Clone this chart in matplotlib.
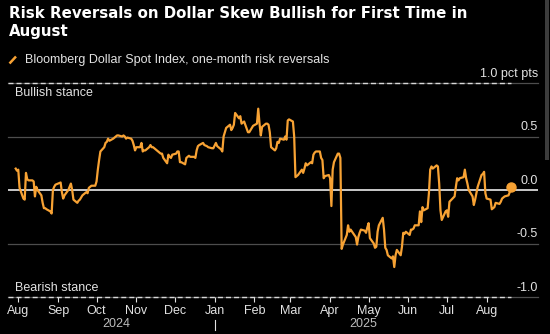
import matplotlib.pyplot as plt
import matplotlib.lines as mlines
import matplotlib.patches as mpatches
import pandas as pd

# Bloomberg Dollar Spot Index, one-month risk reversals (pct pts)
dates = [
    "2024-07-30", "2024-07-31", "2024-08-01", "2024-08-02", "2024-08-05", "2024-08-06",
    "2024-08-07", "2024-08-08", "2024-08-09", "2024-08-12", "2024-08-13", "2024-08-14",
    "2024-08-15", "2024-08-16", "2024-08-19", "2024-08-20", "2024-08-21", "2024-08-22",
    "2024-08-23", "2024-08-26", "2024-08-27", "2024-08-28", "2024-08-29", "2024-08-30",
    "2024-09-03", "2024-09-04", "2024-09-05", "2024-09-06", "2024-09-09", "2024-09-10",
    "2024-09-11", "2024-09-12", "2024-09-13", "2024-09-16", "2024-09-17", "2024-09-18",
    "2024-09-19", "2024-09-20", "2024-09-23", "2024-09-24", "2024-09-25", "2024-09-26",
    "2024-09-27", "2024-09-30", "2024-10-01", "2024-10-02", "2024-10-03", "2024-10-04",
    "2024-10-07", "2024-10-08", "2024-10-09", "2024-10-10", "2024-10-11", "2024-10-14",
    "2024-10-15", "2024-10-16", "2024-10-17", "2024-10-18", "2024-10-21", "2024-10-22",
    "2024-10-23", "2024-10-24", "2024-10-25", "2024-10-28", "2024-10-29", "2024-10-30",
    "2024-10-31", "2024-11-01", "2024-11-04", "2024-11-05", "2024-11-06", "2024-11-07",
    "2024-11-08", "2024-11-11", "2024-11-12", "2024-11-13", "2024-11-14", "2024-11-15",
    "2024-11-18", "2024-11-19", "2024-11-20", "2024-11-21", "2024-11-22", "2024-11-25",
    "2024-11-26", "2024-11-27", "2024-11-28", "2024-11-29", "2024-12-02", "2024-12-03",
    "2024-12-04", "2024-12-05", "2024-12-06", "2024-12-09", "2024-12-10", "2024-12-11",
    "2024-12-12", "2024-12-13", "2024-12-16", "2024-12-17", "2024-12-18", "2024-12-19",
    "2024-12-20", "2024-12-23", "2024-12-24", "2024-12-26", "2024-12-27", "2024-12-30",
    "2024-12-31", "2025-01-02", "2025-01-03", "2025-01-06", "2025-01-07", "2025-01-08",
    "2025-01-09", "2025-01-10", "2025-01-13", "2025-01-14", "2025-01-15", "2025-01-16",
    "2025-01-17", "2025-01-20", "2025-01-21", "2025-01-22", "2025-01-23", "2025-01-24",
    "2025-01-27", "2025-01-28", "2025-01-29", "2025-01-30", "2025-01-31", "2025-02-03",
    "2025-02-04", "2025-02-05", "2025-02-06", "2025-02-07", "2025-02-10", "2025-02-11",
    "2025-02-12", "2025-02-13", "2025-02-14", "2025-02-17", "2025-02-18", "2025-02-19",
    "2025-02-20", "2025-02-21", "2025-02-24", "2025-02-25", "2025-02-26", "2025-02-27",
    "2025-02-28", "2025-03-03", "2025-03-04", "2025-03-05", "2025-03-06", "2025-03-07",
    "2025-03-10", "2025-03-11", "2025-03-12", "2025-03-13", "2025-03-14", "2025-03-17",
    "2025-03-18", "2025-03-19", "2025-03-20", "2025-03-21", "2025-03-24", "2025-03-25",
    "2025-03-26", "2025-03-27", "2025-03-28", "2025-03-31", "2025-04-01", "2025-04-02",
    "2025-04-03", "2025-04-04", "2025-04-07", "2025-04-08", "2025-04-09", "2025-04-10",
    "2025-04-11", "2025-04-14", "2025-04-15", "2025-04-16", "2025-04-17", "2025-04-21",
    "2025-04-22", "2025-04-23", "2025-04-24", "2025-04-25", "2025-04-28", "2025-04-29",
    "2025-04-30", "2025-05-01", "2025-05-02", "2025-05-05", "2025-05-06", "2025-05-07",
    "2025-05-08", "2025-05-09", "2025-05-12", "2025-05-13", "2025-05-14", "2025-05-15",
    "2025-05-16", "2025-05-19", "2025-05-20", "2025-05-21", "2025-05-22", "2025-05-23",
    "2025-05-26", "2025-05-27", "2025-05-28", "2025-05-29", "2025-05-30", "2025-06-02",
    "2025-06-03", "2025-06-04", "2025-06-05", "2025-06-06", "2025-06-09", "2025-06-10",
    "2025-06-11", "2025-06-12", "2025-06-13", "2025-06-16", "2025-06-17", "2025-06-18",
    "2025-06-19", "2025-06-20", "2025-06-23", "2025-06-24", "2025-06-25", "2025-06-26",
    "2025-06-27", "2025-06-30", "2025-07-01", "2025-07-02", "2025-07-03", "2025-07-07",
    "2025-07-08", "2025-07-09", "2025-07-10", "2025-07-11", "2025-07-14", "2025-07-15",
    "2025-07-16", "2025-07-17", "2025-07-18", "2025-07-21", "2025-07-22", "2025-07-23",
    "2025-07-24", "2025-07-25", "2025-07-28", "2025-07-29", "2025-07-30", "2025-07-31",
    "2025-08-01", "2025-08-04", "2025-08-05", "2025-08-06", "2025-08-07", "2025-08-08",
    "2025-08-11", "2025-08-12", "2025-08-13", "2025-08-14", "2025-08-15", "2025-08-18",
    "2025-08-19", "2025-08-20",
]
risk_reversals = [
    0.20, 0.18, 0.19, 0.02, -0.08, -0.09,
    0.16, 0.10, 0.09, 0.09, 0.08, -0.06,
    0.03, 0.00, -0.05, -0.12, -0.17, -0.17,
    -0.18, -0.20, -0.22, 0.00, 0.03, 0.05,
    0.07, -0.02, -0.08, -0.05, 0.00, 0.03,
    0.06, 0.00, -0.09, -0.12, -0.10, -0.09,
    -0.07, -0.05, -0.02, -0.03, 0.02, 0.03,
    0.04, 0.04, 0.08, 0.19, 0.28, 0.36,
    0.40, 0.44, 0.45, 0.48, 0.46, 0.48,
    0.49, 0.50, 0.51, 0.51, 0.50, 0.51,
    0.50, 0.48, 0.49, 0.48, 0.46, 0.42,
    0.37, 0.40, 0.40, 0.44, 0.36, 0.37,
    0.37, 0.40, 0.42, 0.40, 0.40, 0.39,
    0.36, 0.35, 0.34, 0.34, 0.30, 0.25,
    0.33, 0.31, 0.30, 0.33, 0.34, 0.36,
    0.36, 0.26, 0.26, 0.24, 0.30, 0.31,
    0.32, 0.31, 0.31, 0.30, 0.37, 0.41,
    0.42, 0.44, 0.42, 0.41, 0.40, 0.39,
    0.39, 0.44, 0.41, 0.38, 0.36, 0.50,
    0.54, 0.58, 0.61, 0.56, 0.58, 0.61,
    0.72, 0.67, 0.69, 0.62, 0.63, 0.64,
    0.54, 0.54, 0.56, 0.58, 0.60, 0.62,
    0.76, 0.62, 0.51, 0.59, 0.62, 0.62,
    0.61, 0.54, 0.40, 0.37, 0.39, 0.45,
    0.44, 0.48, 0.47, 0.50, 0.47, 0.65,
    0.66, 0.64, 0.50, 0.12, 0.13, 0.14,
    0.19, 0.16, 0.20, 0.25, 0.23, 0.26,
    0.25, 0.33, 0.35, 0.36, 0.36, 0.30,
    0.28, 0.11, 0.13, 0.14, 0.11, -0.15,
    0.19, 0.26, 0.34, 0.34, 0.30, -0.55,
    -0.51, -0.42, -0.33, -0.39, -0.37, -0.44,
    -0.51, -0.44, -0.40, -0.37, -0.38, -0.40,
    -0.35, -0.31, -0.45, -0.50, -0.54, -0.53,
    -0.39, -0.33, -0.26, -0.37, -0.54, -0.56,
    -0.61, -0.64, -0.62, -0.72, -0.61, -0.56,
    -0.61, -0.53, -0.40, -0.41, -0.39, -0.42,
    -0.37, -0.37, -0.36, -0.33, -0.33, -0.20,
    -0.30, -0.16, -0.19, -0.17, -0.03, 0.19,
    0.22, 0.20, 0.23, 0.22, 0.06, -0.19,
    -0.28, -0.20, -0.19, -0.25, -0.11, -0.06,
    0.03, 0.11, 0.09, 0.11, 0.12, 0.19,
    0.11, 0.06, 0.00, -0.06, -0.14, -0.09,
    -0.03, 0.03, 0.14, 0.15, 0.17, -0.03,
    -0.08, -0.09, -0.18, -0.17, -0.16, -0.12,
    -0.13, -0.11, -0.08, -0.07, -0.06, -0.05,
    -0.02, 0.03,
]
ytick_values = [0.5, 0.0, -0.5, -1.0]
ytick_labels = ["0.5", "0.0", "-0.5", "-1.0"]

ORANGE = "#f7a234"
TEXT = "#e2e2e2"
GRID = "#4d4d4d"
FONT = "Liberation Sans"
FS = 9

W, H = 550, 334
x = pd.to_datetime(dates)


def fx(px):
    return px / W


def fy(py):
    return 1 - py / H


fig = plt.figure(figsize=(W / 100, H / 100), dpi=100, facecolor="black")
ax = fig.add_axes([fx(8), fy(297), fx(538) - fx(8), fy(83) - fy(297)])
ax.set_facecolor("black")
x0, x1 = pd.Timestamp("2024-07-24"), pd.Timestamp("2025-09-10")
ax.set_xlim(x0, x1)
ax.set_ylim(-1, 1)
for s in ax.spines.values():
    s.set_visible(False)

# horizontal reference lines
for yv in (1.0, 0.5, -0.5, -1.0):
    ax.axhline(yv, color=GRID, lw=0.9, clip_on=False, zorder=1)
ax.axhline(0, color="white", lw=1.1, zorder=2)
for yv in (1.0, -1.0):
    ax.plot([x0, x[-1]], [yv, yv], color="#d8d8d8", lw=1.0,
            ls=(0, (3.6, 2.2)), clip_on=False, zorder=2)

ax.plot(x, risk_reversals, color=ORANGE, lw=1.6, solid_joinstyle="round", zorder=3)
ax.plot(x[-1], risk_reversals[-1], "o", color=ORANGE, ms=6.5, zorder=4)

# value labels sit on the right, just above their lines
ytrans = ax.get_yaxis_transform()
for yv, lab in zip(ytick_values, ytick_labels):
    ax.annotate(lab, (1.0, yv), xycoords=ytrans, xytext=(0, 2.5),
                textcoords="offset points", ha="right", va="bottom",
                color=TEXT, fontsize=FS, family=FONT)
ax.annotate("1.0 pct pts", (1.0, 1.0), xycoords=ytrans, xytext=(0, 2.5),
            textcoords="offset points", ha="right", va="bottom",
            color=TEXT, fontsize=FS, family=FONT)
ax.text(0.013, 0.955, "Bullish stance", transform=ax.transAxes, ha="left",
        va="center", color=TEXT, fontsize=FS, family=FONT)
ax.text(0.013, 0.04, "Bearish stance", transform=ax.transAxes, ha="left",
        va="center", color=TEXT, fontsize=FS, family=FONT)

ax.set_yticks([])
months = pd.date_range("2024-08-01", "2025-08-01", freq="MS")
ax.set_xticks(months)
ax.set_xticklabels([m.strftime("%b") for m in months], family=FONT)
ax.tick_params(axis="x", colors=TEXT, length=3.5, width=0.8, pad=2.0,
               labelsize=FS)

# year labels under the month row, with a divider at the new year
xtrans = ax.get_xaxis_transform()
year_start = pd.Timestamp("2025-01-01")
for lab, a, b in (("2024", months[0], year_start), ("2025", year_start, x[-1])):
    ax.text(a + (b - a) / 2, -0.125, lab, transform=xtrans, ha="center",
            va="center", color="#bdbdbd", fontsize=FS, family=FONT)
ax.plot([year_start, year_start], [-0.108, -0.155], transform=xtrans,
        color=TEXT, lw=0.8, clip_on=False)

# title and legend
fig.text(fx(9), fy(6), "Risk Reversals on Dollar Skew Bullish for First Time in\nAugust",
         ha="left", va="top", color="white", fontsize=10.8, fontweight="bold",
         family="DejaVu Sans", linespacing=1.25)
fig.add_artist(mlines.Line2D([fx(9.5), fx(16)], [fy(63.5), fy(56.5)],
                             color=ORANGE, lw=1.8, solid_capstyle="butt"))
fig.text(fx(25), fy(59.5), "Bloomberg Dollar Spot Index, one-month risk reversals",
         ha="left", va="center", color=TEXT, fontsize=FS, family=FONT)

# thin scroll strip on the right edge
fig.add_artist(mpatches.Rectangle((fx(545), fy(160)), fx(4), fy(0) - fy(160),
                                  transform=fig.transFigure, color="#3c3c3c", lw=0))

fig.savefig("out.png", dpi=100, facecolor="black")
